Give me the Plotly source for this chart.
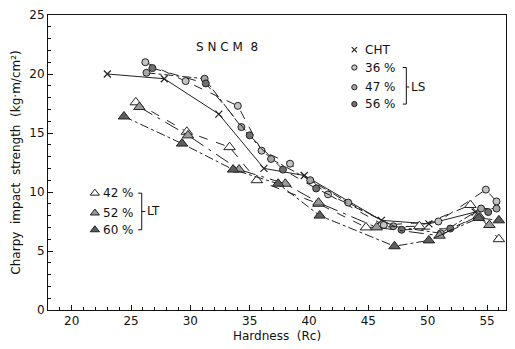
import plotly.graph_objects as go

# ---- data ----
cht_x = [23.0, 27.8, 32.4, 36.2, 39.6, 46.1, 50.1, 54.0]
cht_y = [20.0, 19.6, 16.6, 12.0, 11.4, 7.6, 7.3, 8.3]

ls36_x = [26.2, 29.6, 34.0, 36.0, 38.4, 41.6, 46.3, 50.9, 54.9, 55.8]
ls36_y = [21.0, 19.4, 17.3, 13.5, 12.4, 9.8, 7.2, 7.5, 10.2, 9.2]

ls47_x = [26.3, 31.2, 34.3, 36.8, 40.1, 43.3, 47.1, 51.1, 54.5, 55.8]
ls47_y = [20.1, 19.6, 15.5, 12.8, 11.0, 9.1, 7.1, 6.5, 8.6, 8.6]

ls56_x = [26.8, 31.3, 35.0, 37.8, 40.6, 47.8, 51.9, 55.1]
ls56_y = [20.5, 19.2, 14.8, 11.9, 10.3, 6.8, 6.9, 8.3]

lt42_x = [25.4, 29.7, 33.3, 35.6, 40.8, 44.8, 49.3, 53.6, 56.0]
lt42_y = [17.6, 15.1, 13.8, 11.0, 9.0, 7.0, 7.1, 8.9, 6.0]

lt52_x = [25.7, 29.8, 34.1, 38.0, 40.8, 45.7, 51.0, 54.3, 55.2]
lt52_y = [17.2, 14.8, 11.9, 10.7, 9.1, 7.0, 6.3, 8.0, 7.2]

lt60_x = [24.4, 29.3, 33.6, 37.4, 40.9, 47.2, 50.1, 54.3, 56.0]
lt60_y = [16.4, 14.1, 11.9, 10.7, 8.0, 5.4, 5.9, 7.8, 7.6]

x_ticks = [20, 25, 30, 35, 40, 45, 50, 55]
y_ticks = [0, 5, 10, 15, 20, 25]

FONT = "DejaVu Sans"
LC = "#222222"

series = [
    (cht_x, cht_y, "solid", dict(symbol="x-thin", size=7, line=dict(width=1.2, color=LC), color=LC)),
    (ls36_x, ls36_y, "dash", dict(symbol="circle", size=7, color="#c4c4c4", line=dict(width=1, color=LC))),
    (ls47_x, ls47_y, "dashdot", dict(symbol="circle", size=7, color="#a6a6a6", line=dict(width=1, color=LC))),
    (ls56_x, ls56_y, "dash", dict(symbol="circle", size=7, color="#707070", line=dict(width=1, color=LC))),
    (lt42_x, lt42_y, "dash", dict(symbol="triangle-up", size=10, color="white", line=dict(width=1, color=LC))),
    (lt52_x, lt52_y, "longdashdot", dict(symbol="triangle-up", size=10, color="#9a9a9a", line=dict(width=1, color=LC))),
    (lt60_x, lt60_y, "dashdot", dict(symbol="triangle-up", size=10, color="#5e5e5e", line=dict(width=1, color=LC))),
]

fig = go.Figure()
for xs, ys, dash, mk in series:
    fig.add_trace(go.Scatter(x=xs, y=ys, mode="lines+markers",
                             line=dict(color=LC, width=1, dash=dash),
                             marker=mk, showlegend=False, hoverinfo="skip"))

# ---- legend keys (custom, with brackets) ----
ls_keys = [("CHT", 22.06, series[0][3]), ("36 %", 20.55, series[1][3]),
           ("47 %", 18.88, series[2][3]), ("56 %", 17.45, series[3][3])]
lt_keys = [("42 %", 9.9, series[4][3]), ("52 %", 8.22, series[5][3]), ("60 %", 6.8, series[6][3])]

def small(mk, scale):
    m = dict(mk)
    m["size"] = mk["size"] * scale
    return m

for label, yy, mk in ls_keys:
    fig.add_trace(go.Scatter(x=[43.82], y=[yy], mode="markers", marker=small(mk, 0.75),
                             showlegend=False, hoverinfo="skip"))
    fig.add_annotation(x=44.55, y=yy, text=label, showarrow=False, xanchor="left",
                       font=dict(family=FONT, size=12, color="#111"))
for label, yy, mk in lt_keys:
    fig.add_trace(go.Scatter(x=[21.95], y=[yy], mode="markers", marker=small(mk, 0.8),
                             showlegend=False, hoverinfo="skip"))
    fig.add_annotation(x=22.5, y=yy, text=label, showarrow=False, xanchor="left",
                       font=dict(family=FONT, size=12, color="#111"))

line_style = dict(color="#111", width=1)
# LS bracket
fig.add_shape(type="line", x0=47.9, x1=48.2, y0=20.55, y1=20.55, line=line_style)
fig.add_shape(type="line", x0=47.9, x1=48.2, y0=17.45, y1=17.45, line=line_style)
fig.add_shape(type="line", x0=48.2, x1=48.2, y0=20.55, y1=17.45, line=line_style)
fig.add_shape(type="line", x0=48.2, x1=48.45, y0=18.9, y1=18.9, line=line_style)
fig.add_annotation(x=48.45, y=18.9, text="LS", showarrow=False, xanchor="left",
                   font=dict(family=FONT, size=12, color="#111"))
# LT bracket
fig.add_shape(type="line", x0=25.6, x1=25.9, y0=9.9, y1=9.9, line=line_style)
fig.add_shape(type="line", x0=25.6, x1=25.9, y0=6.8, y1=6.8, line=line_style)
fig.add_shape(type="line", x0=25.9, x1=25.9, y0=9.9, y1=6.8, line=line_style)
fig.add_shape(type="line", x0=25.9, x1=26.2, y0=8.35, y1=8.35, line=line_style)
fig.add_annotation(x=26.2, y=8.35, text="LT", showarrow=False, xanchor="left",
                   font=dict(family=FONT, size=12, color="#111"))

fig.add_annotation(x=33.1, y=22.3, text="S N C M  8", showarrow=False,
                   font=dict(family=FONT, size=12, color="#111"))

axis_common = dict(showgrid=False, zeroline=False, showline=True, linecolor="#111",
                   linewidth=1, mirror=True, ticks="inside", ticklen=5, tickcolor="#111",
                   tickfont=dict(family=FONT, size=12, color="#111"))

fig.update_xaxes(range=[18, 56.6], tickvals=x_ticks,
                 minor=dict(dtick=1, ticks="inside", ticklen=3, tickcolor="#111"),
                 title=dict(text="Hardness  (Rc)", font=dict(family=FONT, size=12, color="#111"),
                            standoff=4),
                 **axis_common)
fig.update_yaxes(range=[0, 25], tickvals=y_ticks,
                 minor=dict(dtick=1, ticks="inside", ticklen=3, tickcolor="#111"),
                 title=dict(text="Charpy  impact  strength  (kg·m/cm²)",
                            font=dict(family=FONT, size=12, color="#111"), standoff=6),
                 **axis_common)

fig.update_layout(width=515, height=349, margin=dict(l=48, r=8, t=15, b=36),
                  paper_bgcolor="white", plot_bgcolor="white")

fig.write_html("out.html")
